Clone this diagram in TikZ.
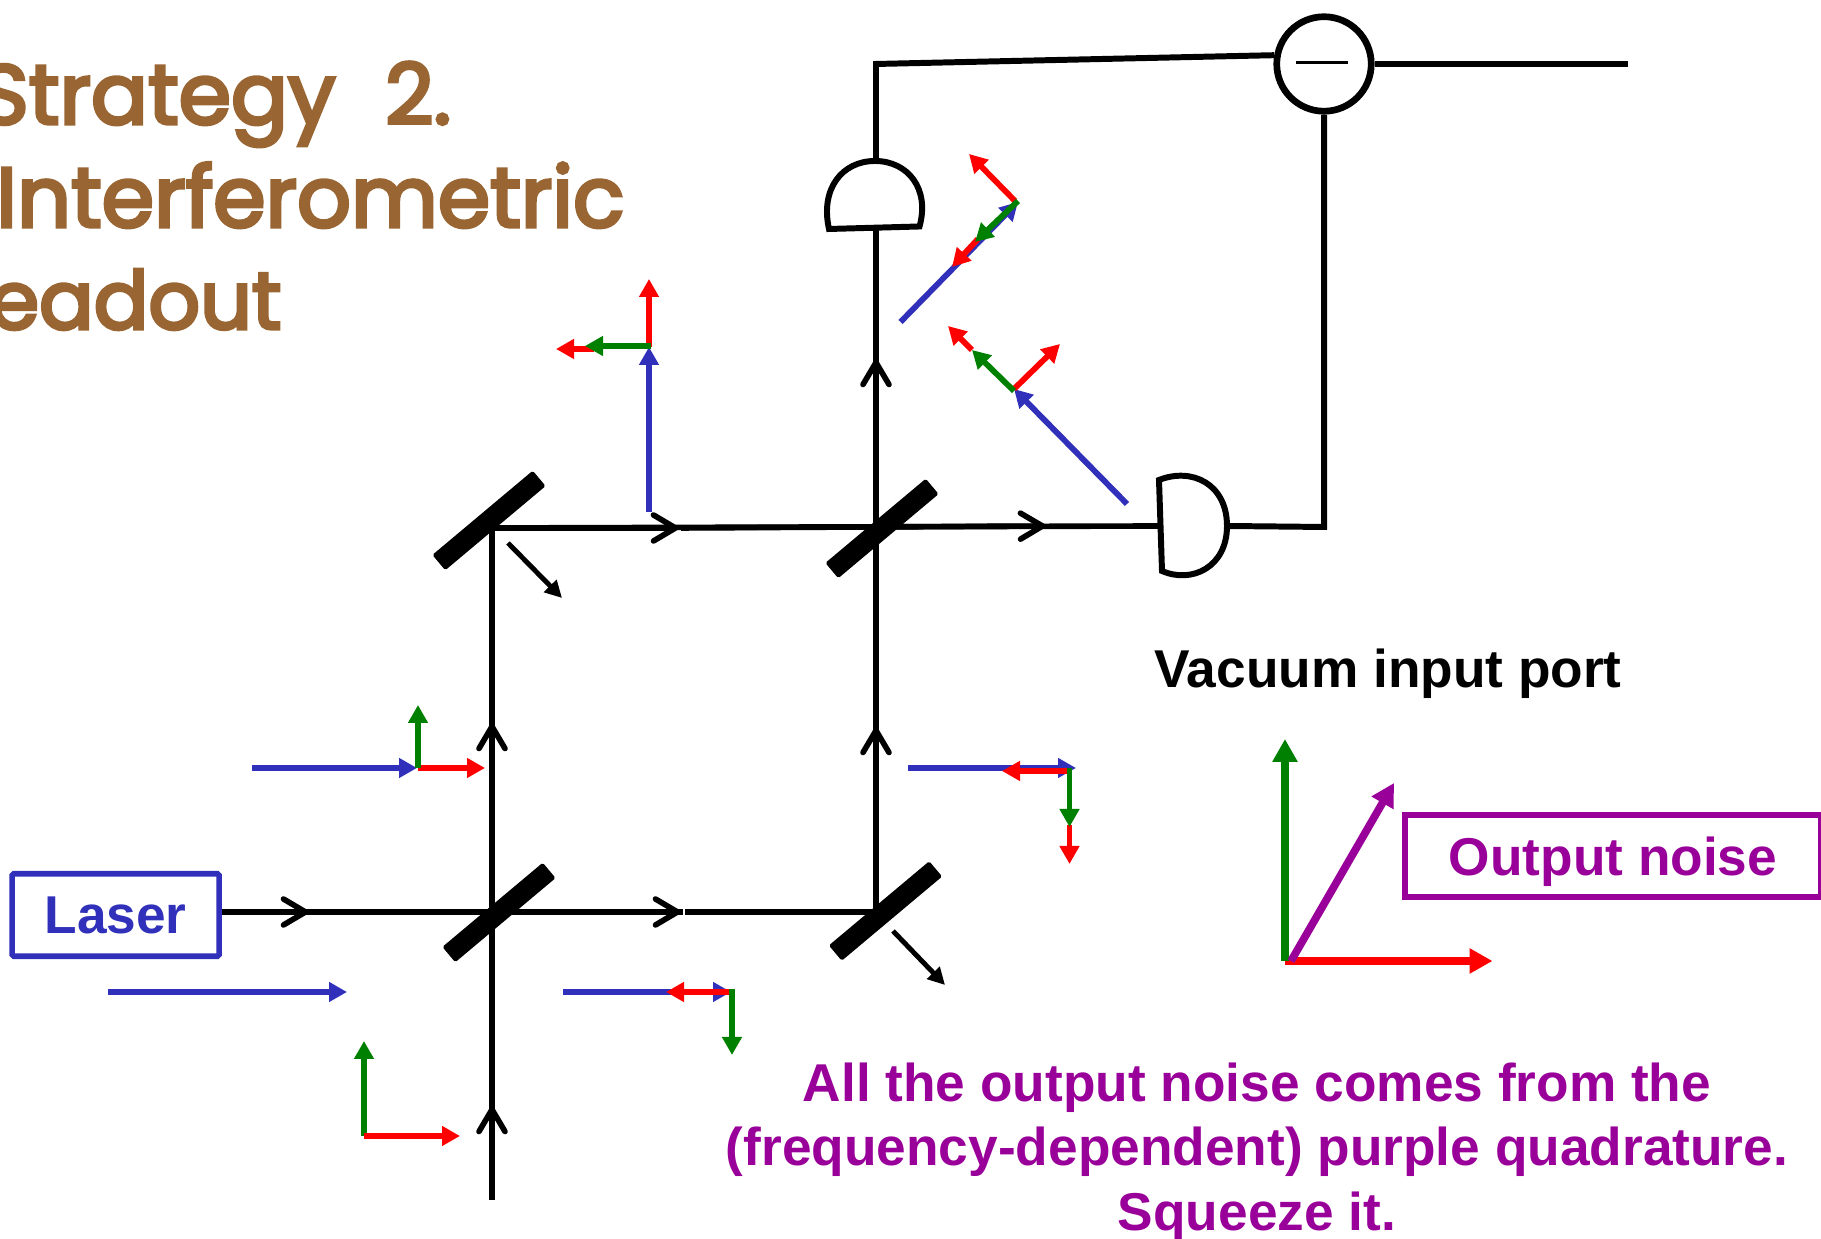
\documentclass[tikz,border=0pt]{standalone}
\usepackage{fontspec}
\usepackage{xcolor}
\usepackage{tikz}
\usetikzlibrary{arrows.meta,positioning,calc}
\setmainfont{Liberation Sans}
\newfontfamily\titlefont[FakeBold=4,WordSpace=2.2]{Poppins}
\definecolor{titlebrown}{RGB}{153,102,51}
\definecolor{laserblue}{RGB}{48,48,186}
\definecolor{noisepurple}{RGB}{153,0,153}
\definecolor{quadgreen}{RGB}{0,128,0}

\begin{document}
\begin{tikzpicture}[
  every node/.style={font=\fontsize{15.15}{18.3}\bfseries},
  titleline/.style={font=\titlefont\fontsize{24}{28}\selectfont, text=titlebrown, anchor=base east, inner sep=0pt},
  beam/.style={draw=black, line width=1.6pt},
  beamtip/.style={beam, -{Straight Barb[length=2.2mm,width=2.6mm,line cap=round]}},
  wire/.style={draw=black, line width=1.7pt},
  splitter/.style={fill=black, rounded corners=0.5pt, rotate=40, minimum width=1.31cm, minimum height=0.2cm, inner sep=0pt},
  leak/.style={draw=black, line width=1.4pt, -{Triangle[length=1.7mm,width=1.7mm]}},
  bluevec/.style={draw=laserblue, line width=1.65pt, -{Triangle[length=1.8mm,width=1.9mm]}},
  greenvec/.style={draw=quadgreen, line width=1.65pt, -{Triangle[length=1.8mm,width=1.9mm]}},
  redvec/.style={draw=red, line width=1.65pt, -{Triangle[length=1.8mm,width=1.9mm]}},
  bigvec/.style={line width=2.2pt, -{Triangle[length=2.3mm,width=2.4mm]}}
]
  \useasboundingbox (0,0) rectangle (18.21,12.39);

  % Title lines, cut by the left edge
  \node[titleline] (titlea) at (4.52, 11.15) {Strategy 2.};
  \node[titleline] (titleb) at (6.25, 10.12) {Interferometric};
  \node[titleline, font=\titlefont\fontsize{23}{28}\selectfont] (titlec) at (2.82, 9.10) {readout};

  % Laser and beam splitters
  \node[draw=laserblue, text=laserblue, line width=1.6pt, rounded corners=0.5pt, minimum width=2.07cm, minimum height=0.825cm, inner sep=0pt] (laser) at (1.156, 3.24) {Laser};
  \node[splitter] (bsin) at (4.99, 3.265) {};
  \node[splitter] (mirrorup) at (4.89, 7.185) {};
  \node[splitter] (bsout) at (8.82, 7.105) {};
  \node[splitter] (mirrorlow) at (8.855, 3.28) {};

  % Detectors
  \draw[wire, fill=white] (8.29, 10.10) .. controls (8.20, 10.50) and (8.42, 10.78) .. (8.75, 10.78) .. controls (9.08, 10.78) and (9.30, 10.50) .. (9.195, 10.125) -- cycle;
  \draw[wire, fill=white] (11.59, 7.59) .. controls (11.92, 7.72) and (12.27, 7.55) .. (12.27, 7.13) .. controls (12.27, 6.72) and (11.92, 6.55) .. (11.62, 6.68) -- cycle;
  \node[circle, draw=black, line width=1.9pt, minimum size=0.945cm, inner sep=0pt] (diff) at (13.24, 11.75) {};
  \draw[line width=0.9pt] (12.955, 11.765) -- (13.48, 11.765);

  % Named points on the beams and wires
  \coordinate (lowtipa) at (3.11, 3.27);
  \coordinate (lowtipb) at (6.83, 3.27);
  \coordinate (lowbreak) at (6.85, 3.27);
  \coordinate (lowcorner) at (8.76, 3.27);
  \coordinate (vacstart) at (4.92, 0.39);
  \coordinate (vactip) at (4.92, 1.35);
  \coordinate (lefttip) at (4.92, 5.18);
  \coordinate (upcorner) at (4.92, 7.11);
  \coordinate (uptipa) at (6.81, 7.11);
  \coordinate (uptipb) at (10.48, 7.13);
  \coordinate (detright) at (11.60, 7.13);
  \coordinate (righttipa) at (8.76, 5.14);
  \coordinate (righttipb) at (8.76, 8.82);
  \coordinate (dettop) at (8.76, 10.14);
  \coordinate (domeright) at (12.27, 7.13);
  \coordinate (domeup) at (8.76, 10.78);
  \coordinate (wirecorner) at (8.76, 11.75);
  \coordinate (downcorner) at (13.24, 7.12);
  \coordinate (outend) at (16.28, 11.75);

  % Beams
  \draw[beam] (laser.east |- lowtipa) -- (lowtipb);
  \draw[beamtip] (laser.east |- lowtipa) -- (lowtipa);
  \draw[beamtip] (lowtipa) -- (lowtipb);
  \draw[beam] (lowbreak) -- (lowcorner);
  \draw[beam] (vacstart) -- (upcorner);
  \draw[beamtip] (vacstart) -- (vactip);
  \draw[beamtip] (vactip) -- (lefttip);
  \draw[beam] (upcorner) -- (detright);
  \draw[beamtip] (upcorner) -- (uptipa);
  \draw[beamtip] (uptipa) -- (uptipb);
  \draw[beam] (lowcorner) -- (dettop);
  \draw[beamtip] (lowcorner) -- (righttipa);
  \draw[beamtip] (righttipa) -- (righttipb);

  % Wires to the subtraction
  \draw[wire] (domeup) -- (wirecorner) -- (diff.170);
  \draw[wire] (diff.south) -- (downcorner) -- (domeright);
  \draw[wire] (diff.east) -- (outend);

  % Light leaving the mirrors
  \draw[leak] (5.08, 6.96) -- (5.62, 6.41);
  \draw[leak] (8.93, 3.08) -- (9.45, 2.54);

  % Phasors at the laser
  \draw[bluevec] (1.08, 2.47) -- (3.47, 2.47);
  \draw[greenvec] (3.64, 1.03) -- (3.64, 1.98);
  \draw[redvec] (3.64, 1.03) -- (4.60, 1.03);

  % Phasors, left arm
  \draw[bluevec] (2.52, 4.71) -- (4.17, 4.71);
  \draw[redvec] (4.18, 4.71) -- (4.85, 4.71);
  \draw[greenvec] (4.18, 4.71) -- (4.18, 5.34);

  % Phasors, right arm below the splitter
  \draw[bluevec] (5.63, 2.47) -- (7.31, 2.47);
  \draw[redvec] (7.29, 2.47) -- (6.66, 2.47);
  \draw[greenvec] (7.32, 2.50) -- (7.32, 1.84);

  % Phasors, right arm above the mirror
  \draw[bluevec] (9.08, 4.71) -- (10.76, 4.71);
  \draw[redvec] (10.69, 4.68) -- (10.02, 4.68);
  \draw[redvec] (10.695, 4.14) -- (10.695, 3.75);
  \draw[greenvec] (10.695, 4.71) -- (10.695, 4.12);

  % Phasors, upper left arm
  \draw[bluevec] (6.49, 7.27) -- (6.49, 8.92);
  \draw[redvec] (6.49, 8.92) -- (6.49, 9.60);
  \draw[redvec] (5.94, 8.90) -- (5.56, 8.90);
  \draw[greenvec] (6.51, 8.93) -- (5.85, 8.93);

  % Phasors at the top detector
  \draw[bluevec] (9.005, 9.17) -- (10.18, 10.37);
  \draw[redvec] (10.15, 10.38) -- (9.69, 10.85);
  \draw[redvec] (9.78, 10.00) -- (9.52, 9.72);
  \draw[greenvec] (10.18, 10.38) -- (9.75, 9.97);

  % Phasors at the right detector
  \draw[bluevec] (11.27, 7.35) -- (10.14, 8.50);
  \draw[redvec] (10.14, 8.50) -- (10.60, 8.95);
  \draw[redvec] (9.72, 8.89) -- (9.48, 9.13);
  \draw[greenvec] (10.14, 8.48) -- (9.72, 8.89);

  % Vacuum input port
  \node[anchor=base, inner sep=0pt] (vacuum) at (13.88, 5.51) {Vacuum input port};
  \draw[bigvec, draw=red] (12.85, 2.78) -- (14.925, 2.78);
  \draw[bigvec, draw=quadgreen] (12.85, 2.78) -- (12.85, 5.00);
  \draw[bigvec, draw=noisepurple] (12.91, 2.78) -- (13.94, 4.56);
  \node[draw=noisepurple, text=noisepurple, line width=1.6pt, minimum width=4.16cm, minimum height=0.825cm, inner sep=0pt, text depth=0pt] (output) at (16.13, 3.83) {Output noise};

  % Closing remark
  \node[text=noisepurple, align=center, inner sep=0pt] (remark) at (12.57, 0.87) {All the output noise comes from the\\(frequency-dependent) purple quadrature.\\Squeeze it.};
\end{tikzpicture}
\end{document}
